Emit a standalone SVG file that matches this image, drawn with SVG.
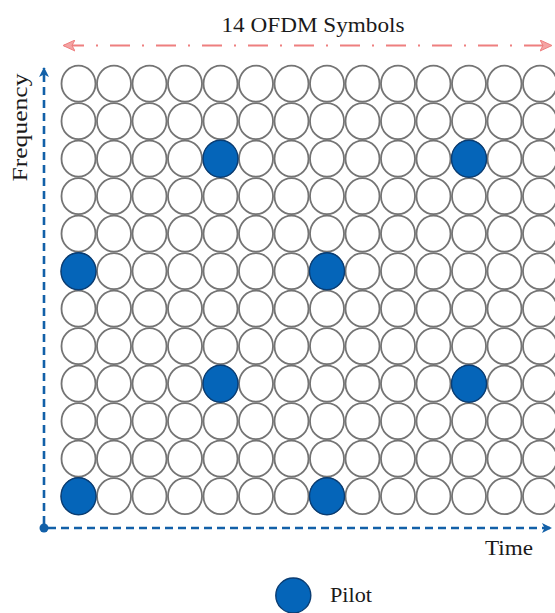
<svg xmlns="http://www.w3.org/2000/svg" xmlns:xlink="http://www.w3.org/1999/xlink" width="555" height="613" viewBox="0 0 555 613">
<style>
.re{fill:#fff;stroke:#747474;stroke-width:1.8}
.pilot{fill:#0565b9;stroke:#0a3d73;stroke-width:1.4}
.lbl{font-family:"Liberation Serif","Times New Roman",serif;fill:#1a1a1a}
.ax{stroke:#1260a8;stroke-width:2.6;fill:none;stroke-dasharray:8 5}
.sym{stroke:#ee7f7f;stroke-width:2.2;fill:none;stroke-dasharray:20 12 2 12}
</style>
<defs>
<marker id="ab" viewBox="0 0 10 10" refX="9" refY="5" markerWidth="10" markerHeight="10" markerUnits="userSpaceOnUse" orient="auto">
<path d="M0,0 L10,5 L0,10 L2.5,5 Z" fill="#1260a8"/>
</marker>
<marker id="ar" viewBox="0 0 12 12" refX="11" refY="6" markerWidth="12" markerHeight="12" markerUnits="userSpaceOnUse" orient="auto-start-reverse">
<path d="M0,0.5 L12,6 L0,11.5 L3,6 Z" fill="#f4a3a3" stroke="#ee7f7f" stroke-width="1"/>
</marker>
<g id="row">
<ellipse class="re" cx="78.5" cy="0" rx="17" ry="18"/>
<ellipse class="re" cx="114" cy="0" rx="17" ry="18"/>
<ellipse class="re" cx="149.5" cy="0" rx="17" ry="18"/>
<ellipse class="re" cx="185" cy="0" rx="17" ry="18"/>
<ellipse class="re" cx="220.5" cy="0" rx="17" ry="18"/>
<ellipse class="re" cx="256" cy="0" rx="17" ry="18"/>
<ellipse class="re" cx="291.5" cy="0" rx="17" ry="18"/>
<ellipse class="re" cx="327" cy="0" rx="17" ry="18"/>
<ellipse class="re" cx="362.5" cy="0" rx="17" ry="18"/>
<ellipse class="re" cx="398" cy="0" rx="17" ry="18"/>
<ellipse class="re" cx="433.5" cy="0" rx="17" ry="18"/>
<ellipse class="re" cx="469" cy="0" rx="17" ry="18"/>
<ellipse class="re" cx="504.5" cy="0" rx="17" ry="18"/>
<ellipse class="re" cx="540" cy="0" rx="17" ry="18"/>
</g>
</defs>
<rect width="555" height="613" fill="#fff"/>
<g id="grid">
<use xlink:href="#row" href="#row" y="83.7"/>
<use xlink:href="#row" href="#row" y="121.2"/>
<use xlink:href="#row" href="#row" y="158.7"/>
<use xlink:href="#row" href="#row" y="196.2"/>
<use xlink:href="#row" href="#row" y="233.7"/>
<use xlink:href="#row" href="#row" y="271.2"/>
<use xlink:href="#row" href="#row" y="308.7"/>
<use xlink:href="#row" href="#row" y="346.2"/>
<use xlink:href="#row" href="#row" y="383.7"/>
<use xlink:href="#row" href="#row" y="421.2"/>
<use xlink:href="#row" href="#row" y="458.7"/>
<use xlink:href="#row" href="#row" y="496.2"/>
</g>
<g id="pilots">
<ellipse class="pilot" cx="220.5" cy="158.7" rx="17.5" ry="18.5"/>
<ellipse class="pilot" cx="469" cy="158.7" rx="17.5" ry="18.5"/>
<ellipse class="pilot" cx="78.5" cy="271.2" rx="17.5" ry="18.5"/>
<ellipse class="pilot" cx="327" cy="271.2" rx="17.5" ry="18.5"/>
<ellipse class="pilot" cx="220.5" cy="383.7" rx="17.5" ry="18.5"/>
<ellipse class="pilot" cx="469" cy="383.7" rx="17.5" ry="18.5"/>
<ellipse class="pilot" cx="78.5" cy="496.2" rx="17.5" ry="18.5"/>
<ellipse class="pilot" cx="327" cy="496.2" rx="17.5" ry="18.5"/>
</g>
<g id="connectors">
<line class="ax" x1="44" y1="524" x2="44" y2="68" marker-end="url(#ab)"/>
<line class="ax" x1="48" y1="528" x2="551" y2="528" marker-end="url(#ab)"/>
<circle cx="44" cy="528" r="4.5" fill="#1260a8"/>
<line class="sym" x1="64" y1="45.5" x2="551" y2="45.5" marker-start="url(#ar)" marker-end="url(#ar)"/>
</g>
<g id="labels">
<text class="lbl" x="313" y="31.5" font-size="22" text-anchor="middle" textLength="183" lengthAdjust="spacingAndGlyphs">14 OFDM Symbols</text>
<text class="lbl" transform="translate(27,127.5) rotate(-90)" x="0" y="0" font-size="22" text-anchor="middle" textLength="108" lengthAdjust="spacingAndGlyphs">Frequency</text>
<text class="lbl" x="485" y="555" font-size="22" textLength="48" lengthAdjust="spacingAndGlyphs">Time</text>
</g>
<g id="legend">
<ellipse class="pilot" cx="293.3" cy="595.5" rx="17.5" ry="17.5"/>
<text class="lbl" x="330" y="602" font-size="22" textLength="42" lengthAdjust="spacingAndGlyphs">Pilot</text>
</g>
</svg>
